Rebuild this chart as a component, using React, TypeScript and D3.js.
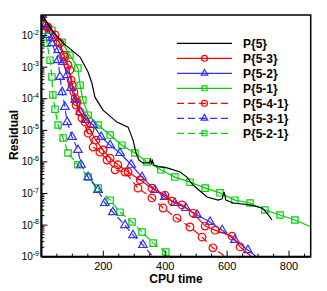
import React, { useEffect, useRef } from "react"
import * as d3 from "d3"

// [CPU time, residual]
const p5 = [
  [2, 4.47e-2], [34, 1.48e-2], [70, 5.75e-3], [125, 2.09e-3], [151, 6.92e-4],
  [163, 3.16e-4], [173, 1.12e-4], [199, 4.37e-5], [244, 1.82e-5], [280, 1.26e-5],
  [296, 4.9e-6], [306, 1.91e-6], [315, 1.15e-6], [328, 9.33e-7], [348, 9.33e-7],
  [353, 1.2e-6], [356, 8.6e-7], [359, 1.1e-6], [363, 8.1e-7], [377, 7.08e-7],
  [406, 6.46e-7], [448, 4.79e-7], [470, 3.31e-7], [490, 1.86e-7], [535, 7.76e-8],
  [571, 6.17e-8], [584, 6.76e-8], [590, 1.12e-7], [596, 6.17e-8], [619, 5.01e-8],
  [674, 4.37e-8], [713, 3.47e-8], [729, 2.4e-8], [745, 1.45e-8],
]
const p53 = [
  [2, 4.47e-2], [21, 1.86e-2], [44, 1.05e-2], [60, 5.75e-3], [73, 2.4e-3],
  [86, 1.17e-3], [96, 3.89e-4], [105, 1.62e-4], [115, 7.94e-5], [125, 3.8e-5],
  [141, 1.82e-5], [157, 1.02e-5], [176, 4.9e-6], [199, 2.4e-6], [222, 1.32e-6],
  [247, 8.13e-7], [280, 4.79e-7], [319, 2.69e-7], [357, 1.48e-7], [399, 8.91e-8],
  [422, 5.75e-8], [454, 4.37e-8], [490, 2.4e-8], [529, 9.33e-9], [561, 6.92e-9],
  [616, 4.47e-9], [642, 2.04e-9], [680, 9.8e-10],
]
const p52 = [
  [2, 4.47e-2], [18, 1.86e-2], [34, 8.32e-3], [54, 3.47e-3], [70, 1.45e-3],
  [83, 5.62e-4], [96, 2.19e-4], [109, 9.12e-5], [125, 3.8e-5], [144, 2.14e-5],
  [167, 1.48e-5], [193, 6.17e-6], [222, 3.39e-6], [254, 1.91e-6], [290, 8.13e-7],
  [325, 3.31e-7], [367, 1.29e-7], [399, 7.76e-8], [431, 5.01e-8], [467, 3.47e-8],
  [503, 2.09e-8], [545, 1.26e-8], [584, 6.92e-9], [625, 3.39e-9], [667, 1.62e-9],
  [696, 9.8e-10],
]
const p51 = [
  [2, 4.47e-2], [34, 1.48e-2], [67, 6.17e-3], [92, 2.4e-3], [118, 9.33e-4],
  [125, 2.69e-4], [134, 9.12e-5], [151, 3.02e-5], [183, 1.48e-5], [222, 7.08e-6],
  [260, 3.39e-6], [302, 1.91e-6], [341, 1.0e-6], [386, 5.62e-7], [431, 3.31e-7],
  [480, 2.29e-7], [529, 1.48e-7], [577, 1.05e-7], [625, 6.17e-8], [674, 5.01e-8],
  [722, 3.02e-8], [771, 2.09e-8], [819, 1.45e-8], [875, 8.4e-9],
]
const p541 = [
  [2, 4.47e-2], [21, 1.74e-2], [54, 6.17e-3], [76, 2.09e-3], [92, 8.13e-4],
  [99, 2.69e-4], [109, 1.05e-4], [112, 6.31e-5], [131, 2.45e-5], [151, 8.13e-6],
  [167, 2.95e-6], [189, 2.04e-6], [212, 1.15e-6], [238, 5.62e-7], [270, 4.79e-7],
  [312, 1.48e-7], [357, 7.24e-8], [393, 3.47e-8], [438, 1.66e-8], [480, 8.71e-9],
  [519, 4.17e-9], [554, 1.91e-9], [596, 9.8e-10],
]
const p531 = [
  [2, 4.47e-2], [12, 2.14e-2], [21, 1.05e-2], [34, 5.75e-3], [54, 1.66e-3],
  [60, 4.9e-4], [67, 1.62e-4], [76, 5.5e-5], [83, 1.82e-5], [99, 6.17e-6],
  [118, 2.4e-6], [128, 8.13e-7], [151, 3.31e-7], [183, 1.29e-7], [205, 5.01e-8],
  [231, 2.57e-8], [270, 1.0e-8], [296, 4.79e-9], [328, 2.34e-9], [361, 9.8e-10],
]
const p521 = [
  [2, 4.47e-2], [12, 1.48e-2], [18, 5.75e-3], [28, 1.66e-3], [34, 4.9e-4],
  [37, 1.32e-4], [44, 4.68e-5], [54, 1.48e-5], [70, 5.75e-6], [86, 1.91e-6],
  [118, 8.13e-7], [151, 3.31e-7], [183, 1.48e-7], [222, 6.17e-8], [254, 2.57e-8],
  [293, 1.26e-8], [325, 6.03e-9], [361, 2.69e-9], [402, 1.41e-9], [422, 9.1e-10],
]

const names = ["P{5}", "P{5-3}", "P{5-2}", "P{5-1}", "P{5-4-1}", "P{5-3-1}", "P{5-2-1}"]
const seriesData = [p5, p53, p52, p51, p541, p531, p521]
const xTicks = [200, 400, 600, 800]
const yExponents = [-2, -3, -4, -5, -6, -7, -8, -9]

const colors = ["#000000", "#ff0000", "#3030ff", "#00d000", "#ff0000", "#3030ff", "#00d000"]
const dashes = [null, null, null, null, "7 4", "7 4", "7 4"]
const markers = [null, d3.symbolCircle, d3.symbolTriangle, d3.symbolSquare, d3.symbolCircle, d3.symbolTriangle, d3.symbolSquare]
const markerSize = { circle: 46, triangle: 32, square: 40 }

const W = 327
const H = 291
const FONT = "'Liberation Sans', Arial, sans-serif"

const App = () => {
  const ref = useRef(null)

  useEffect(() => {
    const svg = d3.select(ref.current)
    svg.selectAll("*").remove()

    const left = 41.4, right = 310.7, top = 15, bottom = 256.7
    const x = d3.scaleLinear().domain([0, 870]).range([left, right])
    const y = d3.scaleLog().domain([1e-9, 4.47e-2]).range([bottom, top])

    svg.append("rect").attr("width", W).attr("height", H).attr("fill", "#fff")

    svg.append("defs").append("clipPath").attr("id", "plot")
      .append("rect").attr("x", left).attr("y", top)
      .attr("width", right - left).attr("height", bottom - top)

    const plot = svg.append("g").attr("clip-path", "url(#plot)")
    const line = d3.line().x((d) => x(d[0])).y((d) => y(d[1]))
    const sizeOf = (m) => m === d3.symbolCircle ? markerSize.circle : m === d3.symbolTriangle ? markerSize.triangle : markerSize.square

    // draw from last to first so P{5} stays on top like the reference
    for (let i = seriesData.length - 1; i >= 0; i--) {
      const data = seriesData[i]
      plot.append("path")
        .attr("d", line(data))
        .attr("fill", "none")
        .attr("stroke", colors[i])
        .attr("stroke-width", 1.2)
        .attr("stroke-dasharray", dashes[i])
      if (markers[i]) {
        const sym = d3.symbol().type(markers[i]).size(sizeOf(markers[i]))
        plot.selectAll(null)
          .data(data.filter((d) => d[0] <= 870 && d[1] >= 1e-9))
          .join("path")
          .attr("d", sym)
          .attr("transform", (d) => `translate(${x(d[0])},${y(d[1])})`)
          .attr("fill", "none")
          .attr("stroke", colors[i])
          .attr("stroke-width", 1.2)
      }
    }

    // frame
    svg.append("rect")
      .attr("x", left).attr("y", top)
      .attr("width", right - left).attr("height", bottom - top)
      .attr("fill", "none").attr("stroke", "#000").attr("stroke-width", 1.5)
    svg.append("line").attr("x1", left).attr("x2", left).attr("y1", top).attr("y2", bottom)
      .attr("stroke", "#000").attr("stroke-width", 2)
    svg.append("line").attr("x1", left).attr("x2", right).attr("y1", bottom).attr("y2", bottom)
      .attr("stroke", "#000").attr("stroke-width", 2)

    // x ticks
    const xMinor = d3.range(50, 870, 50)
    svg.append("g").selectAll("line").data(xMinor).join("line")
      .attr("x1", (d) => x(d)).attr("x2", (d) => x(d))
      .attr("y1", bottom).attr("y2", (d) => bottom - (d % 200 === 0 ? 6 : 3))
      .attr("stroke", "#000").attr("stroke-width", 1)
    svg.append("g").selectAll("text").data(xTicks).join("text")
      .attr("x", (d) => x(d)).attr("y", 270)
      .attr("text-anchor", "middle")
      .attr("font-family", FONT).attr("font-size", 11)
      .text((d) => d)

    // y ticks
    const yMinor = []
    for (let e = -9; e <= -2; e++) {
      for (let m = 1; m <= 9; m++) {
        const v = m * Math.pow(10, e)
        if (v <= 4.47e-2) yMinor.push({ v, major: m === 1 })
      }
    }
    svg.append("g").selectAll("line").data(yMinor).join("line")
      .attr("x1", left).attr("x2", (d) => left + (d.major ? 6 : 3))
      .attr("y1", (d) => y(d.v)).attr("y2", (d) => y(d.v))
      .attr("stroke", "#000").attr("stroke-width", 1)
    const yl = svg.append("g").selectAll("text").data(yExponents).join("text")
      .attr("x", 39).attr("y", (d) => y(Math.pow(10, d)) + 3.5)
      .attr("text-anchor", "end")
      .attr("font-family", FONT).attr("font-size", 10)
    yl.append("tspan").text("10")
    yl.append("tspan").attr("dy", -4.5).attr("font-size", 7).text((d) => "-" + Math.abs(d))

    // axis titles
    svg.append("text").attr("x", 176).attr("y", 283)
      .attr("text-anchor", "middle").attr("font-family", FONT)
      .attr("font-size", 12).attr("font-weight", "bold").text("CPU time")
    svg.append("text").attr("transform", "translate(18,135) rotate(-90)")
      .attr("text-anchor", "middle").attr("font-family", FONT)
      .attr("font-size", 12).attr("font-weight", "bold").text("Residual")

    // legend
    const lg = svg.append("g")
    names.forEach((name, i) => {
      const ly = 43.3 + i * 15
      lg.append("line").attr("x1", 177).attr("x2", 232).attr("y1", ly).attr("y2", ly)
        .attr("stroke", colors[i]).attr("stroke-width", 1.2)
        .attr("stroke-dasharray", dashes[i])
      if (markers[i]) {
        lg.append("path")
          .attr("d", d3.symbol().type(markers[i]).size(sizeOf(markers[i]) * 0.6)())
          .attr("transform", `translate(204.5,${ly})`)
          .attr("fill", "none").attr("stroke", colors[i]).attr("stroke-width", 1.2)
      }
      lg.append("text").attr("x", 243).attr("y", ly + 4.3)
        .attr("font-family", FONT).attr("font-size", 12).attr("font-weight", "bold")
        .text(name)
    })
  }, [])

  return (
    <div style={{ position: "absolute", left: 0, top: 0 }}>
      <svg ref={ref} width={W} height={H} style={{ display: "block" }}></svg>
    </div>
  )
}

export default App
